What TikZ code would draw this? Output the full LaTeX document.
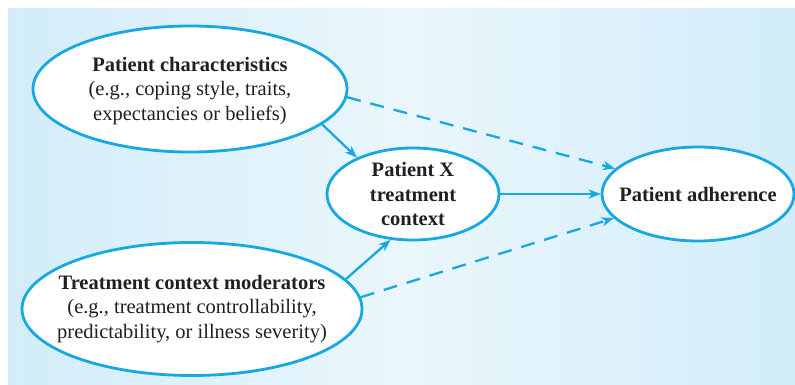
\documentclass[tikz,border=0pt]{standalone}
\usepackage{fontspec}
\setmainfont{Liberation Serif}
\usetikzlibrary{shapes.geometric,arrows.meta}
\definecolor{edge}{HTML}{17A8E2}
\definecolor{ink}{HTML}{231F20}
\definecolor{bgside}{HTML}{D2EDF9}
\definecolor{bgmid}{HTML}{EAF6FC}
\begin{document}
\begin{tikzpicture}[x=1pt,y=-1pt,
  bubble/.style={ellipse,draw=edge,line width=2.8pt,fill=white,inner sep=0pt},
  txt/.style={text=ink,align=center,font=\fontsize{20.5}{24.5}\selectfont},
  link/.style={draw=edge,line width=2.3pt,-{Stealth[length=12pt,width=9pt,inset=3.5pt]}},
  dlink/.style={link,dash pattern=on 14pt off 10pt}]
  \useasboundingbox (0,0) rectangle (795,385);
  % background panel
  \shade[left color=bgside,right color=bgside,middle color=bgmid] (8,9) rectangle (795,385);

  % bubbles and their texts
  \node[bubble,minimum width=314pt,minimum height=126pt] (pc) at (190,89) {};
  \node[txt] (pct) at ([yshift=-2pt]pc.center) {\textbf{Patient characteristics}\\(e.g., coping style, traits,\\expectancies or beliefs)};
  \node[bubble,minimum width=172pt,minimum height=92pt] (pxt) at (413,194) {};
  \node[txt] (pxtt) at (pxt.center) {\textbf{Patient X}\\\textbf{treatment}\\\textbf{context}};
  \node[bubble,minimum width=340pt,minimum height=133pt] (tcm) at (192,309) {};
  \node[txt] (tcmt) at (tcm.center) {\textbf{Treatment context moderators}\\(e.g., treatment controllability,\\predictability, or illness severity)};
  \node[bubble,minimum width=192pt,minimum height=94pt] (pa) at (698,194) {};
  \node[txt] (pat) at (pa.center) {\textbf{Patient adherence}};

  % connectors
  \draw[link] (pc.-15) -- (pxt.147);
  \draw[link] (tcm.11) -- (pxt.-116);
  \draw[link] (pxt.east) -- (pa.west);
  \draw[dlink] (pc.-3) -- (pa.163);
  \draw[dlink] (tcm.4) -- (pa.-164);
\end{tikzpicture}
\end{document}
